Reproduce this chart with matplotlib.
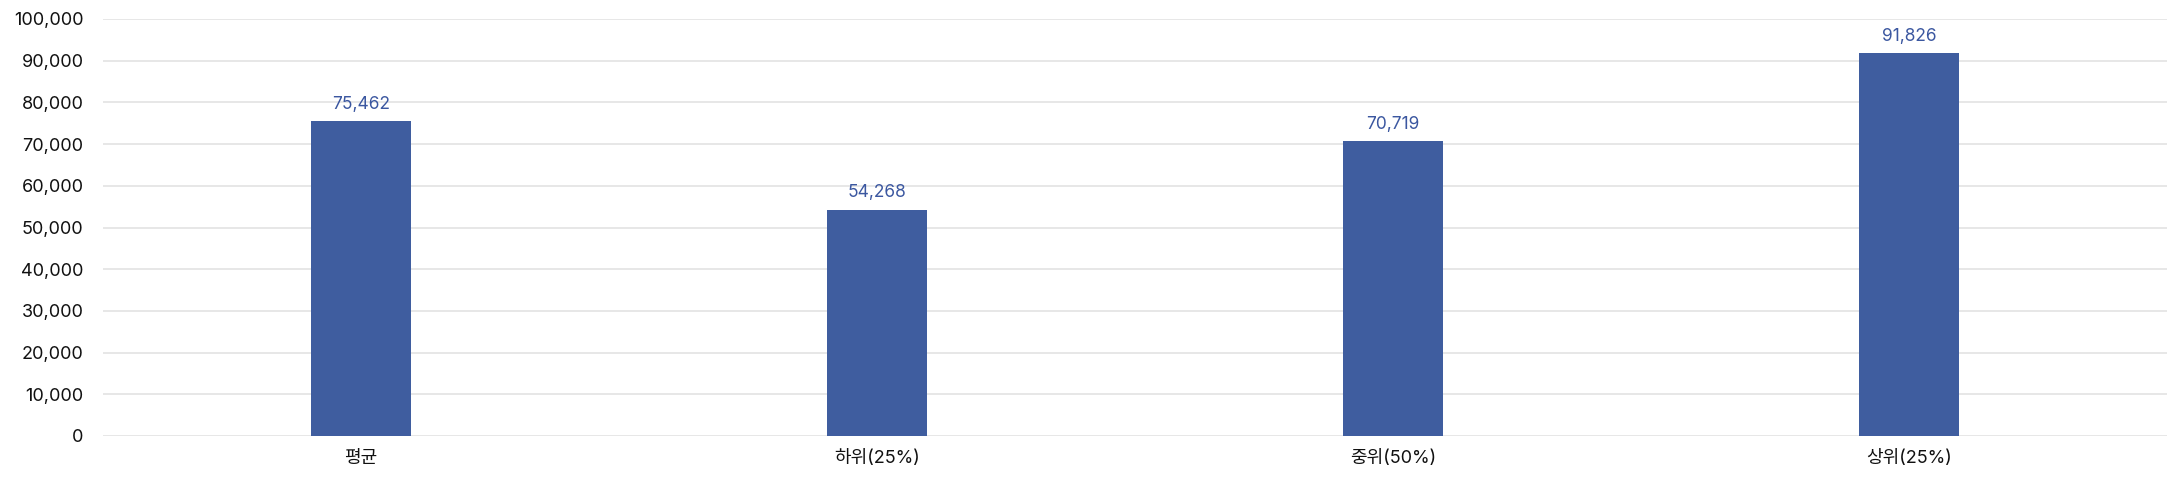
import matplotlib
matplotlib.use("Agg")
import matplotlib.pyplot as plt
from matplotlib.ticker import FuncFormatter, MultipleLocator

plt.rcParams['font.family'] = ['Inter', 'Noto Sans CJK KR', 'DejaVu Sans']

categories = ['평균', '하위(25%)', '중위(50%)', '상위(25%)']
values = [75462, 54268, 70719, 91826]

bar_color = '#3f5d9f'
label_color = '#3b57a0'
grid_color = '#e3e3e3'

fig = plt.figure(figsize=(21.84, 4.82), dpi=100, facecolor='white')
ax = fig.add_axes([103/2184, 1-436/482, (2167-103)/2184, (436-19)/482])

x = range(len(categories))
bars = ax.bar(x, values, width=0.192, color=bar_color, zorder=3)
for b, v in zip(bars, values):
    ax.annotate(f'{v:,}', (b.get_x() + b.get_width()/2, v), xytext=(0, 6),
                textcoords='offset points', ha='center', va='bottom',
                fontsize=12.5, color=label_color)

ax.set_xlim(-0.5, len(categories) - 0.5)
ax.set_ylim(0, 100000)
ax.yaxis.set_major_locator(MultipleLocator(10000))
ax.yaxis.set_major_formatter(FuncFormatter(lambda v, p: f'{int(v):,}'))
ax.set_xticks(list(x))
ax.set_xticklabels(categories)
ax.tick_params(axis='both', length=0, labelsize=13, colors='#111111')
ax.tick_params(axis='y', pad=14)
ax.tick_params(axis='x', pad=10)
ax.grid(axis='y', color=grid_color, linewidth=1.2, zorder=0)
for s in ax.spines.values():
    s.set_visible(False)
ax.set_facecolor('white')

fig.savefig('out.png', dpi=100, facecolor='white')
